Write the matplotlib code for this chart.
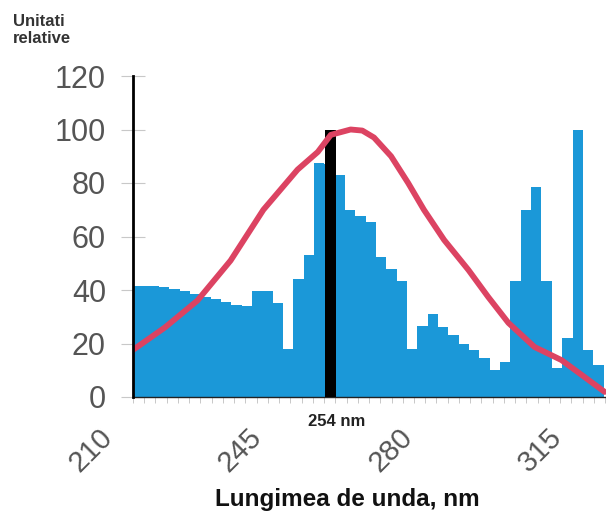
import numpy as np
import matplotlib
matplotlib.use("Agg")
import matplotlib.pyplot as plt
from matplotlib.transforms import ScaledTranslation
from matplotlib.ticker import MultipleLocator

plt.rcParams['font.family'] = ['Liberation Sans', 'DejaVu Sans']

# histogram bins (nm), 2.3 nm wide, starting at 210
bin_start = 210.0
bin_step = 2.3
bar_values = [41.5, 41.5, 41.5, 41, 40.5, 39.5, 38.5, 37.5, 36.5, 35.5,
              34.5, 34, 39.5, 39.5, 35, 18, 44, 53, 87.5, 87,
              83, 70, 67.5, 65.5, 52.5, 48, 43.5, 18, 26.5, 31,
              26, 23, 20, 17.5, 14.5, 10, 13, 43.5, 70, 78.5,
              43.5, 11, 22, 100, 17.5, 12]

# germicidal line
line_nm = 254
line_value = 100

# action spectrum curve (red)
curve_nm = [210.0, 217.1, 224.3, 231.7, 239.0, 246.6, 251.1, 254.0, 258.4, 261.0,
            263.6, 267.4, 271.2, 274.7, 279.2, 284.6, 289.0, 293.5, 299.3, 305.3,
            310.4, 314.9]
curve_val = [17.6, 26, 36, 51, 70, 85, 91.6, 98, 100, 99.6,
             97, 90, 80, 70, 58.7, 47.5, 37.4, 27.7, 18.7, 13.8,
             7.5, 1.9]

xticks = [210, 245, 280, 315]
yticks = [0, 20, 40, 60, 80, 100, 120]

fig = plt.figure(figsize=(6.06, 5.14), dpi=100)
ax = fig.add_axes([133/606, 117/514, 473/606, 321/514])

bin_centers = bin_start + bin_step*np.arange(len(bar_values))
ax.bar(bin_centers, bar_values, width=bin_step, color='#1b98d8', linewidth=0, zorder=2)
ax.bar(line_nm, line_value, width=2.4, color='black', linewidth=0, zorder=3)
ax.plot(curve_nm, curve_val, color='#dc4362', lw=4.2, solid_capstyle='round',
        solid_joinstyle='round', zorder=4, clip_on=True)

ax.set_xlim(210, 315.2)
ax.set_ylim(0, 120)

for s in ['top', 'right']:
    ax.spines[s].set_visible(False)
ax.spines['left'].set_linewidth(2.0)
ax.spines['left'].set_color('black')
ax.spines['left'].set_zorder(5)
ax.spines['bottom'].set_linewidth(1.0)
ax.spines['bottom'].set_color('#222222')

ax.set_yticks(yticks)
ax.tick_params(axis='y', direction='inout', length=17, width=0.8, color='#c8c8c8',
               labelsize=22, labelcolor='#555555', pad=11)

ax.set_xticks(xticks)
ax.set_xticklabels([str(t) for t in xticks], rotation=45, ha='right', va='top')
ax.xaxis.set_minor_locator(MultipleLocator(2.5))
ax.tick_params(axis='x', which='both', direction='out', length=4, width=0.7,
               color='#c8c8c8', labelsize=21, labelcolor='#555555', pad=15)

# shift the rotated labels to where they sit in the original figure
label_shift_px = [-15, -23, -30, -38]
for lab, dx in zip(ax.get_xticklabels(), label_shift_px):
    lab.set_transform(lab.get_transform() + ScaledTranslation(dx/100, 0, fig.dpi_scale_trans))

ax.text(255.2, -0.075, '254 nm', transform=ax.get_xaxis_transform(),
        ha='center', va='center', fontsize=12, fontweight='bold', color='#222222')

fig.text(347/606, 0.028, 'Lungimea de unda, nm', ha='center', va='center',
         fontsize=17.5, fontweight='bold', color='#111111')
fig.text(13/606, 1 - 14/514, 'Unitati\nrelative', ha='left', va='top',
         fontsize=12, fontweight='bold', color='#333333', linespacing=1.2)

fig.savefig('out.png', dpi=100)
